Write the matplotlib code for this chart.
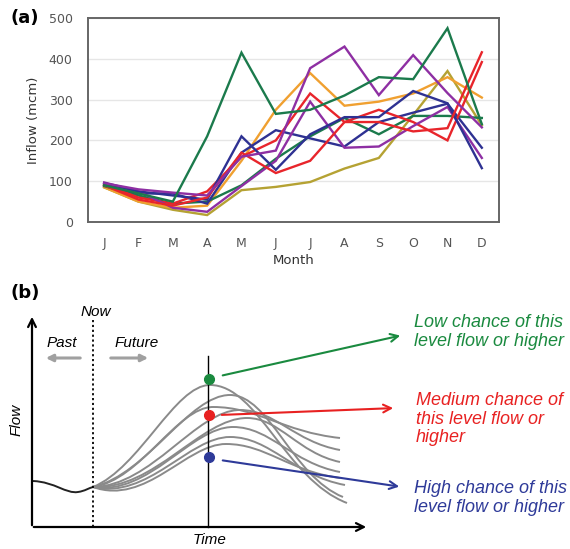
import numpy as np
import matplotlib.pyplot as plt
from matplotlib.path import Path
from matplotlib.patches import PathPatch

# ---- panel (a) data: monthly inflow (mcm) for the ensemble years ----
months = ['J', 'F', 'M', 'A', 'M', 'J', 'J', 'A', 'S', 'O', 'N', 'D']
green_hi = [90, 70, 50, 210, 415, 265, 275, 310, 355, 350, 475, 240]
green_lo = [88, 65, 45, 50, 90, 155, 210, 255, 215, 260, 260, 255]
orange = [85, 50, 35, 40, 150, 275, 365, 285, 295, 315, 355, 305]
olive = [85, 50, 30, 17, 78, 86, 98, 131, 157, 262, 370, 237]
purple_hi = [95, 80, 72, 65, 160, 175, 377, 430, 311, 409, 316, 232]
purple_lo = [97, 75, 35, 25, 88, 150, 295, 182, 185, 235, 282, 157]
red_lo = [90, 55, 40, 60, 170, 120, 150, 245, 245, 222, 230, 416]
red_hi = [92, 60, 45, 75, 160, 200, 315, 245, 275, 245, 200, 392]
blue_a = [95, 75, 65, 55, 210, 128, 215, 257, 257, 321, 291, 132]
blue_b = [90, 70, 70, 45, 170, 225, 205, 185, 245, 268, 290, 182]

series = [
    (olive, '#b5a233'), (orange, '#f0a030'), (green_lo, '#1b7a4c'),
    (blue_b, '#2e3192'), (red_hi, '#e8252b'), (purple_lo, '#8e2fa3'),
    (blue_a, '#2e3192'), (red_lo, '#e8252b'), (purple_hi, '#8e2fa3'),
    (green_hi, '#1b7a4c'),
]

# ---- panel (b) schematic key points (figure pixel space) ----
start_pt = (93, 487)
hist_x = [33, 55, 66, 78, 85, 89, 93]
hist_y = [481, 482, 494, 492, 491, 488, 487]
peak_x = [210, 230, 213, 240, 247, 233, 230, 226]
peak_y = [385, 395, 407, 410, 418, 427, 437, 444]
dip_y = [468, 474, 480, 486, 490, 496, 500, 506]
end_x = [347, 343, 340, 340, 340, 340, 345, 340]
end_y = [503, 497, 438, 450, 462, 472, 485, 478]

fig = plt.figure(figsize=(5.7, 5.49), dpi=100)

# ---------------- panel (a) ----------------
ax = fig.add_axes([88 / 570, 1 - 222 / 549, 411 / 570, 204 / 549])
x = np.arange(len(months))
for vals, col in series:
    ax.plot(x, vals, color=col, lw=1.7, solid_joinstyle='miter')

ax.set_xlim(-0.47, 11.5)
ax.set_ylim(0, 500)
ax.set_xticks(x)
ax.set_xticklabels(months)
ax.set_yticks([0, 100, 200, 300, 400, 500])
ax.tick_params(length=0, labelsize=9, labelcolor='#555555', pad=11)
ax.yaxis.grid(True, color='#e6e6e6', lw=1)
ax.set_axisbelow(True)
for s in ax.spines.values():
    s.set_color('#666666')
    s.set_linewidth(1.4)
ax.set_xlabel('Month', fontsize=9.5, color='#333333', labelpad=3)
ax.set_ylabel('Inflow (mcm)', fontsize=9.5, color='#333333', labelpad=6)
fig.text(10 / 570, 1 - 18 / 549, '(a)', fontsize=13, fontweight='bold', va='center')

# ---------------- panel (b) ----------------
axb = fig.add_axes([0, 0, 1, 1])
axb.set_xlim(0, 570)
axb.set_ylim(549, 0)
axb.axis('off')
axb.patch.set_alpha(0)

# ensemble forecast traces
x0, y0 = start_pt
for px, py, dy, ex, ey in zip(peak_x, peak_y, dip_y, end_x, end_y):
    verts = [
        (x0, y0),
        (x0 + 0.4 * (px - x0), dy), (px - 0.3 * (px - x0), py), (px, py),
        (px + 0.35 * (ex - px), py), (px + 0.55 * (ex - px), ey - 0.2 * (ey - py)), (ex, ey),
    ]
    codes = [Path.MOVETO] + [Path.CURVE4] * 6
    axb.add_patch(PathPatch(Path(verts, codes), fc='none', ec='#8a8a8a', lw=1.4))

# observed history
hv = list(zip(hist_x, hist_y))
axb.add_patch(PathPatch(Path(hv, [Path.MOVETO] + [Path.CURVE4] * 6),
                        fc='none', ec='#222222', lw=1.4))

# axes arrows
axb.annotate('', xy=(32, 314), xytext=(32, 528),
             arrowprops=dict(arrowstyle='->', lw=1.6, color='black', mutation_scale=14))
axb.annotate('', xy=(369, 527), xytext=(31, 527),
             arrowprops=dict(arrowstyle='->', lw=1.6, color='black', mutation_scale=14))

# now / time markers
axb.plot([93, 93], [320, 527], color='black', lw=1.3, ls=(0, (1.2, 1.5)))
axb.plot([208, 208], [356, 527], color='black', lw=1.0)

# past / future arrows
gray_arrow = dict(arrowstyle='-|>', lw=2.2, color='#a0a0a0', mutation_scale=10)
axb.annotate('', xy=(43, 358), xytext=(83, 358), arrowprops=gray_arrow)
axb.annotate('', xy=(151, 358), xytext=(108, 358), arrowprops=gray_arrow)

txt = dict(fontsize=11, style='italic', family='Liberation Sans', ha='center', va='center')
axb.text(96, 312, 'Now', **txt)
axb.text(62, 343, 'Past', **txt)
axb.text(137, 343, 'Future', **txt)
axb.text(210, 540, 'Time', **txt)
axb.text(17, 420, 'Flow', rotation=90, **txt)
fig.text(10 / 570, 1 - 293 / 549, '(b)', fontsize=13, fontweight='bold', va='center')

# exceedance markers
levels = [(379, '#1a8a3f', (220, 376), (403, 335), (414, 332),
           'Low chance of this\nlevel flow or higher'),
          (415, '#e82121', (219, 415), (396, 408), (416, 419),
           'Medium chance of\nthis level flow or\nhigher'),
          (457, '#2e3a99', (220, 460), (402, 487), (414, 498),
           'High chance of this\nlevel flow or higher')]
for yv, col, a0, a1, tp, label in levels:
    axb.plot(209, yv, 'o', color=col, ms=7, zorder=5)
    axb.annotate('', xy=a1, xytext=a0,
                 arrowprops=dict(arrowstyle='->', lw=1.5, color=col, mutation_scale=14))
    axb.text(tp[0], tp[1], label, color=col, fontsize=13, style='italic',
             family='Liberation Sans', ha='left', va='center', linespacing=1.15)

fig.savefig('out.png', dpi=100)
